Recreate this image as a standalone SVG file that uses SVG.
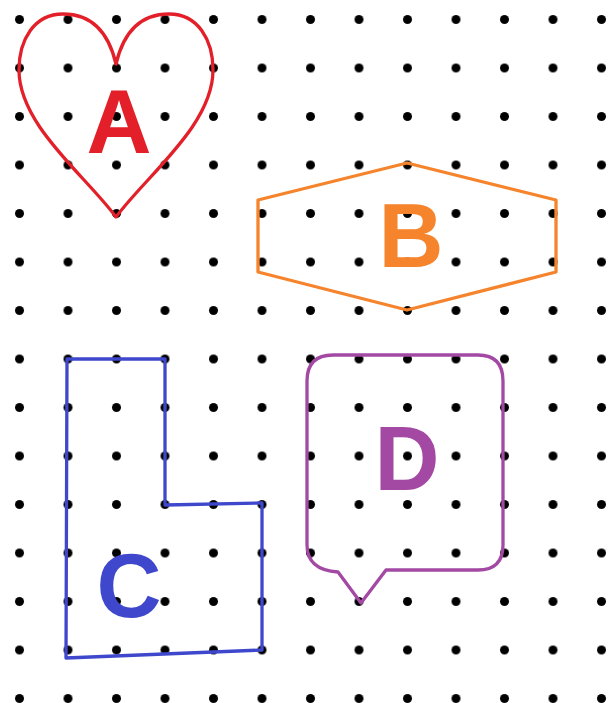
<svg xmlns="http://www.w3.org/2000/svg" width="608" height="703" viewBox="0 0 608 703">
<style>
.shape{fill:none;stroke-width:3.3;stroke-linejoin:round}
.lbl{font-family:"Liberation Sans",Arial,sans-serif;font-weight:bold;font-size:90px;text-anchor:middle}
</style>
<defs>
<pattern id="dots" x="-4.75" y="-4.75" width="48.5" height="48.5" patternUnits="userSpaceOnUse">
<circle cx="24.25" cy="24.25" r="4.5" fill="#000"/>
</pattern>
</defs>
<rect width="608" height="703" fill="#fff"/>
<rect width="608" height="703" fill="url(#dots)"/>
<g id="A">
<path class="shape" stroke="#e3202a" d="M116,64 C108,30 90,14 63,14 C34,14 19,40 19,70 C19,125 85,175 116,217 C147,175 213,125 213,70 C213,40 198,14 169,14 C142,14 124,30 116,64 Z"/>
<text class="lbl" x="119" y="153" fill="#e3202a">A</text>
</g>
<g id="B">
<polygon class="shape" stroke="#f5842c" points="258,200 407,163 556,200 556,272 407,310 258,272"/>
<text class="lbl" x="411" y="267" fill="#f5842c">B</text>
</g>
<g id="C">
<polygon class="shape" stroke="#3f48cc" points="67,359 165,359 165,505 262,503 262,650 66,658"/>
<text class="lbl" x="129" y="617" fill="#3f48cc">C</text>
</g>
<g id="D">
<path class="shape" stroke="#a349a4" d="M333,355 H478 Q503,355 503,381 V545 Q503,570 478,570 H386 L361,603 L338,572 Q307,570 307,545 V381 Q307,355 333,355 Z"/>
<text class="lbl" x="407" y="490" fill="#a349a4">D</text>
</g>
<g id="connectors"/>
</svg>
